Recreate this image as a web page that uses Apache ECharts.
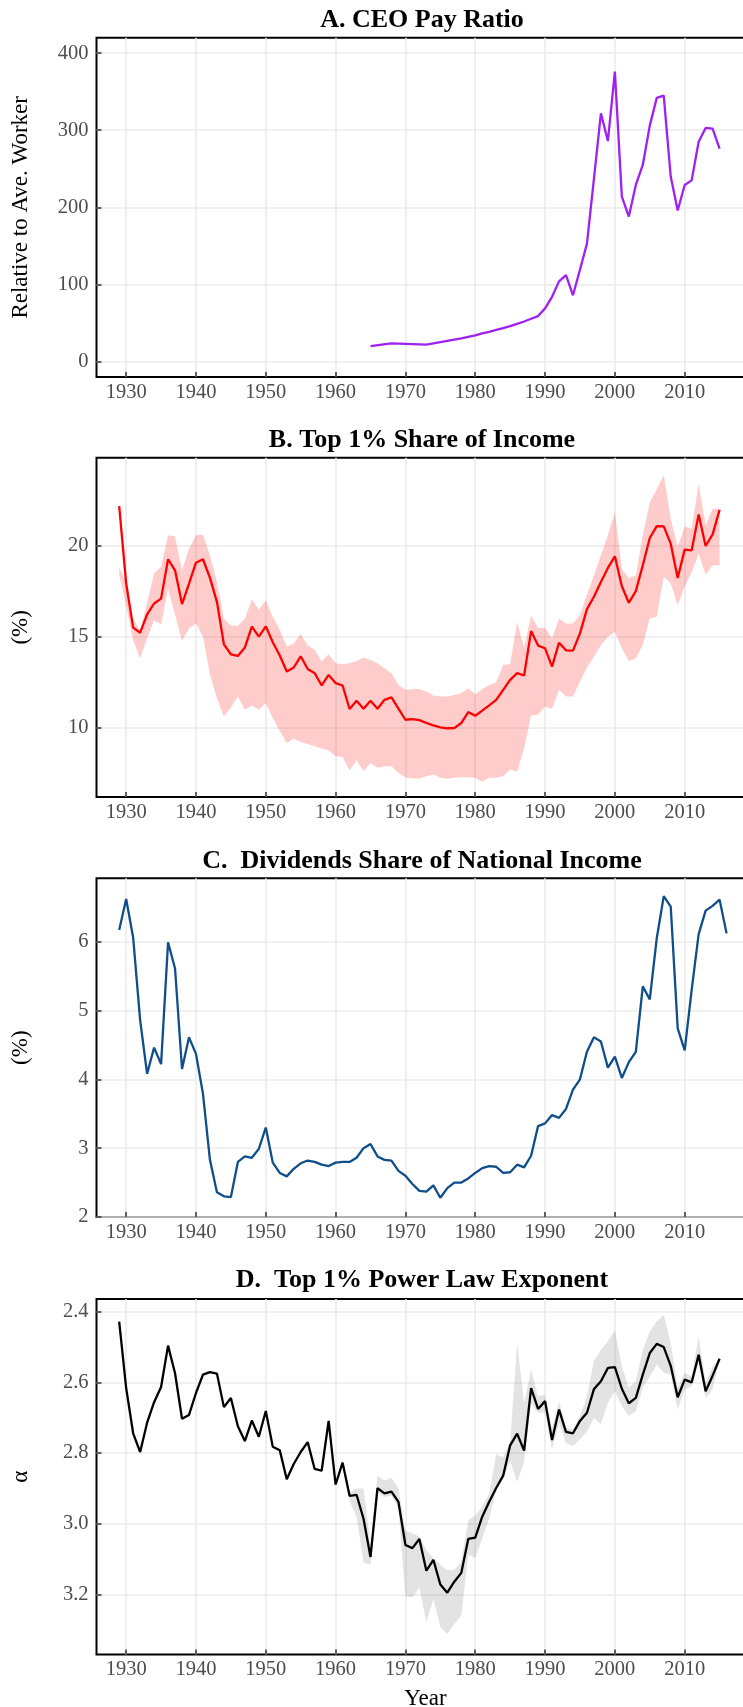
<!DOCTYPE html>
<html>
<head>
<meta charset="utf-8">
<script src="https://cdn.jsdelivr.net/npm/echarts@6.0.0/dist/echarts.min.js"></script>
<style>
html, body { margin: 0; padding: 0; background: #fff; }
#main { width: 743px; height: 1707px; }
</style>
</head>
<body>
<div id="main"></div>
<script>
// A. CEO pay ratio, relative to the average worker
var ceoYears = [1965, 1968, 1973, 1978, 1979, 1980, 1981, 1982, 1983, 1984, 1985, 1986, 1987, 1988, 1989,
    1990, 1991, 1992, 1993, 1994, 1995, 1996, 1997, 1998, 1999,
    2000, 2001, 2002, 2003, 2004, 2005, 2006, 2007, 2008, 2009,
    2010, 2011, 2012, 2013, 2014, 2015];
var ceoRatio = [20, 23.7, 22, 30, 32, 34, 36.5, 38.5, 41, 43.5, 46, 49, 52, 55.5, 59,
    69, 84, 104, 112, 86, 119, 153, 237, 322, 286,
    376, 214, 188, 229, 255, 306, 342, 345, 240, 196,
    229, 235, 285, 303, 302, 276];

// B. top 1% share of income (%), 1929-2015, with its band
var top1First = 1929, top1Last = 2015;
var top1Share = [22.2, 17.93, 15.5, 15.22, 16.23, 16.83, 17.1, 19.27, 18.66, 16.8,
    17.93, 19.08, 19.27, 18.24, 16.92, 14.58, 14.03, 13.94, 14.4, 15.55,
    15.0, 15.57, 14.69, 13.96, 13.08, 13.3, 13.92, 13.22, 12.99, 12.31,
    12.89, 12.44, 12.31, 11.01, 11.47, 11.03, 11.47, 11.03, 11.52, 11.65,
    11.03, 10.42, 10.46, 10.4, 10.24, 10.11, 10.0, 9.95, 9.96, 10.24,
    10.84, 10.64, 10.92, 11.21, 11.52, 12.07, 12.62, 12.99, 12.86, 15.31,
    14.51, 14.36, 13.35, 14.67, 14.25, 14.23, 15.18, 16.52, 17.2, 18.02,
    18.79, 19.43, 17.78, 16.87, 17.51, 18.94, 20.44, 21.1, 21.08, 20.13,
    18.24, 19.8, 19.76, 21.74, 20.0, 20.64, 22.0];
var top1Upper = [18.8, 18.0, 16.0, 15.3, 16.9, 18.5, 18.85, 20.6, 20.53, 18.66,
    19.85, 20.6, 20.64, 19.5, 18.0, 16.0, 15.6, 15.6, 16.0, 17.05,
    16.5, 17.0, 16.1, 15.37, 14.45, 14.63, 15.15, 14.5, 14.3, 13.63,
    14.03, 13.53, 13.48, 13.53, 13.66, 13.85, 13.72, 13.53, 13.26, 12.99,
    12.34, 12.07, 12.1, 12.12, 11.98, 11.76, 11.7, 11.7, 11.79, 11.88,
    12.16, 11.83, 12.12, 12.34, 12.49, 13.44, 13.5, 15.82, 14.4, 16.15,
    15.49, 15.49, 14.9, 16.0, 15.73, 15.73, 16.19, 17.33, 18.39, 19.49,
    20.59, 21.87, 18.75, 18.24, 18.39, 20.59, 22.42, 23.15, 23.92, 21.5,
    19.95, 21.08, 20.95, 23.42, 21.14, 22.05, 22.05];
var top1Lower = [18.4, 16.7, 14.8, 13.8, 14.9, 15.9, 15.68, 17.66, 16.23, 14.76,
    15.46, 15.73, 15.0, 12.9, 11.6, 10.6, 11.1, 11.7, 10.97, 11.2,
    10.97, 11.34, 10.51, 9.82, 9.14, 9.38, 9.19, 9.08, 8.96, 8.83,
    8.72, 8.41, 8.37, 7.62, 8.17, 7.58, 8.04, 7.77, 7.86, 7.86,
    7.49, 7.25, 7.18, 7.18, 7.31, 7.4, 7.22, 7.16, 7.22, 7.25,
    7.25, 7.22, 7.0, 7.22, 7.22, 7.31, 7.67, 7.55, 8.86, 10.66,
    10.7, 11.15, 11.03, 12.07, 11.7, 11.7, 12.53, 13.32, 13.9, 14.54,
    15.0, 15.27, 14.36, 13.66, 13.81, 14.54, 16.0, 16.1, 18.3, 17.93,
    16.74, 17.75, 18.57, 19.58, 18.42, 18.94, 18.95];

// C. dividends share of national income (%), 1929-2016
var divFirst = 1929, divLast = 2016;
var divShare = [6.17, 6.62, 6.06, 4.86, 4.08, 4.46, 4.22, 5.99, 5.61, 4.15,
    4.61, 4.37, 3.79, 2.83, 2.36, 2.30, 2.29, 2.80, 2.88, 2.86,
    2.99, 3.30, 2.79, 2.64, 2.59, 2.70, 2.78, 2.82, 2.80, 2.76,
    2.74, 2.79, 2.80, 2.80, 2.86, 3.00, 3.06, 2.88, 2.83, 2.82,
    2.67, 2.60, 2.48, 2.38, 2.37, 2.46, 2.28, 2.42, 2.50, 2.50,
    2.56, 2.64, 2.71, 2.74, 2.73, 2.64, 2.65, 2.76, 2.72, 2.89,
    3.32, 3.36, 3.48, 3.44, 3.57, 3.85, 4.00, 4.40, 4.61, 4.55,
    4.17, 4.33, 4.02, 4.25, 4.40, 5.35, 5.16, 6.05, 6.66, 6.51,
    4.74, 4.42, 5.30, 6.11, 6.45, 6.52, 6.61, 6.12];

// D. top 1% power law exponent, 1929-2015; band only from 1961
var alphaFirst = 1929, alphaLast = 2015;
var alpha = [2.428, 2.616, 2.744, 2.797, 2.714, 2.656, 2.613, 2.496, 2.574, 2.703,
    2.692, 2.630, 2.578, 2.571, 2.575, 2.670, 2.644, 2.724, 2.766, 2.708,
    2.754, 2.681, 2.782, 2.792, 2.874, 2.831, 2.797, 2.769, 2.845, 2.850,
    2.709, 2.889, 2.827, 2.921, 2.918, 2.986, 3.094, 2.899, 2.914, 2.909,
    2.938, 3.060, 3.069, 3.043, 3.133, 3.102, 3.172, 3.195, 3.164, 3.139,
    3.043, 3.039, 2.980, 2.938, 2.899, 2.864, 2.778, 2.745, 2.793, 2.616,
    2.675, 2.653, 2.763, 2.677, 2.740, 2.744, 2.709, 2.686, 2.619, 2.597,
    2.559, 2.557, 2.618, 2.659, 2.644, 2.578, 2.517, 2.491, 2.500, 2.553,
    2.642, 2.592, 2.600, 2.522, 2.625, 2.581, 2.533];
var bandFirst = 1961, bandLast = 2015;
var alphaLow = [2.817, 2.911, 2.900, 2.900, 3.060, 2.864, 2.878, 2.869, 2.900, 3.020,
    3.027, 3.036, 3.074, 3.097, 3.116, 3.132, 3.130, 3.107, 2.990, 2.976,
    2.952, 2.915, 2.803, 2.812, 2.770, 2.490, 2.658, 2.564, 2.639, 2.635,
    2.733, 2.653, 2.728, 2.733, 2.695, 2.640, 2.540, 2.508, 2.484, 2.452,
    2.555, 2.615, 2.597, 2.508, 2.456, 2.428, 2.409, 2.489, 2.615, 2.573,
    2.585, 2.470, 2.601, 2.555, 2.530];
var alphaHigh = [2.841, 2.935, 2.980, 3.110, 3.115, 2.911, 2.925, 2.920, 2.957, 3.207,
    3.207, 3.181, 3.279, 3.214, 3.292, 3.312, 3.284, 3.261, 3.088, 3.097,
    3.041, 2.985, 2.905, 2.873, 2.822, 2.882, 2.826, 2.658, 2.686, 2.686,
    2.789, 2.714, 2.772, 2.780, 2.761, 2.740, 2.700, 2.718, 2.658, 2.625,
    2.667, 2.695, 2.681, 2.615, 2.583, 2.550, 2.573, 2.578, 2.676, 2.620,
    2.611, 2.545, 2.644, 2.620, 2.535];

// tick labels
var yearTicks = [1930, 1940, 1950, 1960, 1970, 1980, 1990, 2000, 2010];
var ceoTicks = [0, 100, 200, 300, 400];
var top1Ticks = [10, 15, 20];
var divTicks = [2, 3, 4, 5, 6];
var alphaTicks = [2.4, 2.6, 2.8, 3.0, 3.2];

var titles = ['A. CEO Pay Ratio', 'B. Top 1% Share of Income',
    'C.  Dividends Share of National Income', 'D.  Top 1% Power Law Exponent'];

var serif = '"Liberation Serif", "Times New Roman", serif';

// panel boxes (px)
var boxes = [
    {top: 37.7, height: 339.3, titleY: 20},
    {top: 457.7, height: 339.3, titleY: 440},
    {top: 878.3, height: 338.7, titleY: 861},
    {top: 1299, height: 355.5, titleY: 1280}
];

function yearRange(first, last){
    var out = [];
    for (var y = first; y <= last; y++) out.push(y);
    return out;
}
function pairs(xs, ys){
    return xs.map(function(x, i){ return [x, ys[i]]; });
}

function xAxisFor(idx, name){
    return {
        type: 'value', gridIndex: idx, min: 1925.75, max: 2020,
        name: name || '', nameLocation: 'middle', nameGap: 33,
        nameTextStyle: {fontFamily: serif, fontSize: 23, color: '#000'},
        axisLine: {show: false, onZero: false},
        axisTick: {show: true, inside: true, length: 5, customValues: yearTicks,
            lineStyle: {color: '#333', width: 1.5}},
        axisLabel: {customValues: yearTicks, margin: 5, fontFamily: serif, fontSize: 20.5,
            color: '#4d4d4d', formatter: function(v){ return String(v); }},
        splitLine: {show: true, lineStyle: {color: '#ebebeb', width: 1.6}}
    };
}

function yAxisFor(idx, min, max, ticks, name, digits, inverse){
    return {
        type: 'value', gridIndex: idx, min: min, max: max, inverse: !!inverse,
        name: name, nameLocation: 'middle', nameRotate: 90, nameGap: 64,
        nameTextStyle: {fontFamily: serif, fontSize: 23, color: '#000'},
        axisLine: {show: false, onZero: false},
        axisTick: {show: true, inside: true, length: 5, customValues: ticks,
            lineStyle: {color: '#333', width: 1.5}},
        axisLabel: {customValues: ticks, margin: 8, fontFamily: serif, fontSize: 20.5,
            color: '#4d4d4d', formatter: function(v){ return v.toFixed(digits); }},
        splitLine: {show: true, lineStyle: {color: '#ebebeb', width: 1.6}}
    };
}

function line(idx, xs, ys, color){
    return {
        type: 'line', xAxisIndex: idx, yAxisIndex: idx, data: pairs(xs, ys),
        symbol: 'none', silent: true, z: 3,
        lineStyle: {color: color, width: 2.3}, itemStyle: {color: color}
    };
}

// shaded band as one polygon: upper edge forward, lower edge back
function band(idx, xs, lo, hi, color){
    var rows = xs.map(function(x, i){ return [x, lo[i], hi[i]]; });
    return {
        type: 'custom', xAxisIndex: idx, yAxisIndex: idx, silent: true, z: 2,
        data: rows,
        encode: {x: 0, y: [1, 2]},
        renderItem: function(params, api){
            if (params.dataIndex !== 0) return null;
            var pts = [];
            rows.forEach(function(r){ pts.push(api.coord([r[0], r[2]])); });
            for (var i = rows.length - 1; i >= 0; i--) pts.push(api.coord([rows[i][0], rows[i][1]]));
            return {type: 'polygon', shape: {points: pts}, style: {fill: color}};
        }
    };
}

var top1Years = yearRange(top1First, top1Last);
var divYears = yearRange(divFirst, divLast);
var alphaYears = yearRange(alphaFirst, alphaLast);
var bandYears = yearRange(bandFirst, bandLast);

var chart = echarts.init(document.getElementById('main'));
var option = {
    animation: false,
    backgroundColor: '#fff',
    grid: boxes.map(function(b){
        return {left: 96.5, width: 658, top: b.top, height: b.height, show: true,
            borderColor: '#000', borderWidth: 2, backgroundColor: 'transparent',
            outerBoundsMode: 'none'};
    }),
    xAxis: [xAxisFor(0), xAxisFor(1), xAxisFor(2), xAxisFor(3, 'Year')],
    yAxis: [
        yAxisFor(0, -20, 420, ceoTicks, 'Relative to Ave. Worker', 0),
        yAxisFor(1, 6.16, 24.87, top1Ticks, '(%)', 0),
        yAxisFor(2, 2, 6.92, divTicks, '(%)', 0),
        yAxisFor(3, 2.364, 3.37, alphaTicks, 'α', 1, true)
    ],
    graphic: titles.map(function(t, i){
        return {type: 'text', x: 422, y: boxes[i].titleY, silent: true,
            style: {text: t, align: 'center', verticalAlign: 'middle',
                font: 'bold 26px ' + serif, fill: '#000'}};
    }),
    series: [
        line(0, ceoYears, ceoRatio, '#A020F0'),
        band(1, top1Years, top1Lower, top1Upper, 'rgba(255,0,0,0.2)'),
        line(1, top1Years, top1Share, '#FF0000'),
        line(2, divYears, divShare, '#104E8B'),
        band(3, bandYears, alphaLow, alphaHigh, 'rgba(128,128,128,0.22)'),
        line(3, alphaYears, alpha, '#000000')
    ]
};
chart.setOption(option);
</script>
</body>
</html>
